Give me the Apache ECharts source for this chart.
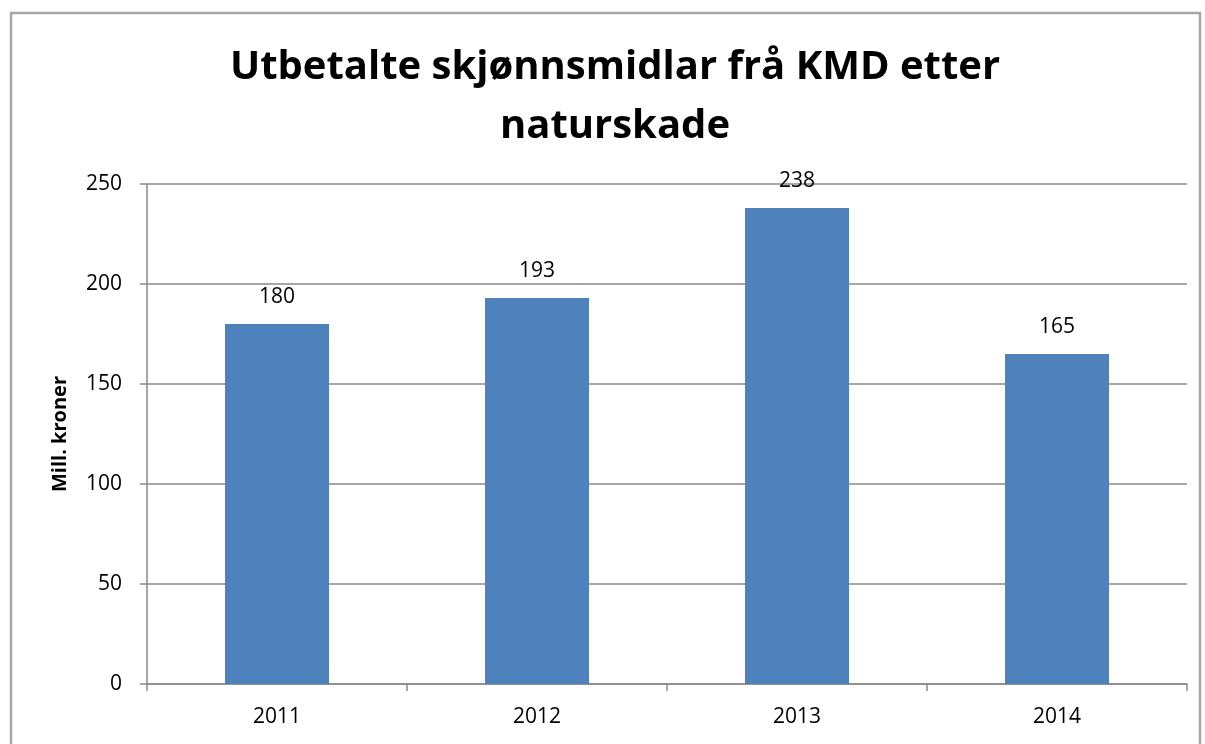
<!DOCTYPE html>
<html>
<head>
<meta charset="utf-8">
<script src="https://cdn.jsdelivr.net/npm/echarts@6/dist/echarts.min.js"></script>
<style>
  html, body { margin: 0; padding: 0; background: #fff; }
  #chart { width: 1205px; height: 744px; }
</style>
</head>
<body>
<div id="chart"></div>
<script>
// Years and paid amounts (million NOK)
const years = ['2011', '2012', '2013', '2014'];
const amounts = [180, 193, 238, 165];
const yTicks = [0, 50, 100, 150, 200, 250];

const titleText = 'Utbetalte skjønnsmidlar frå KMD etter\nnaturskade';
const yAxisTitle = 'Mill. kroner';

const chart = echarts.init(document.getElementById('chart'));
const font = '"Open Sans", "Liberation Sans", sans-serif';
const axisGrey = '#8a8a8a';

chart.setOption({
  animation: false,
  backgroundColor: '#fff',
  title: {
    text: titleText,
    left: 610,
    textAlign: 'center',
    top: 33,
    textStyle: {
      fontFamily: font,
      fontWeight: 'bold',
      fontSize: 40,
      lineHeight: 59,
      color: '#000'
    }
  },
  // outer chart frame
  graphic: [{
    type: 'rect',
    shape: { x: 11, y: 13, width: 1189, height: 760 },
    style: { fill: 'none', stroke: '#a6a6a6', lineWidth: 2.5 },
    silent: true
  }],
  grid: { left: 147, right: 18, top: 184, bottom: 60 },
  xAxis: {
    type: 'category',
    data: years,
    axisLine: { lineStyle: { color: axisGrey, width: 1.5 } },
    axisTick: { show: true, alignWithLabel: false, length: 7, lineStyle: { color: axisGrey, width: 1.5 } },
    axisLabel: { fontFamily: font, fontSize: 21, color: '#000', margin: 23 }
  },
  yAxis: {
    type: 'value',
    min: yTicks[0],
    max: yTicks[yTicks.length - 1],
    interval: 50,
    name: yAxisTitle,
    nameLocation: 'middle',
    nameGap: 77,
    nameTextStyle: { fontFamily: font, fontWeight: 'bold', fontSize: 20, color: '#000' },
    axisLine: { show: true, lineStyle: { color: axisGrey, width: 1.5 } },
    axisTick: { show: true, length: 7, lineStyle: { color: axisGrey, width: 1.5 } },
    axisLabel: { fontFamily: font, fontSize: 21, color: '#000', margin: 25 },
    splitLine: { lineStyle: { color: axisGrey, width: 1.5 } }
  },
  series: [{
    type: 'bar',
    data: amounts,
    barWidth: '40%',
    itemStyle: { color: '#4f81bd' },
    label: {
      show: true,
      position: 'top',
      distance: 16,
      fontFamily: font,
      fontSize: 21,
      color: '#000'
    }
  }]
});
</script>
</body>
</html>
